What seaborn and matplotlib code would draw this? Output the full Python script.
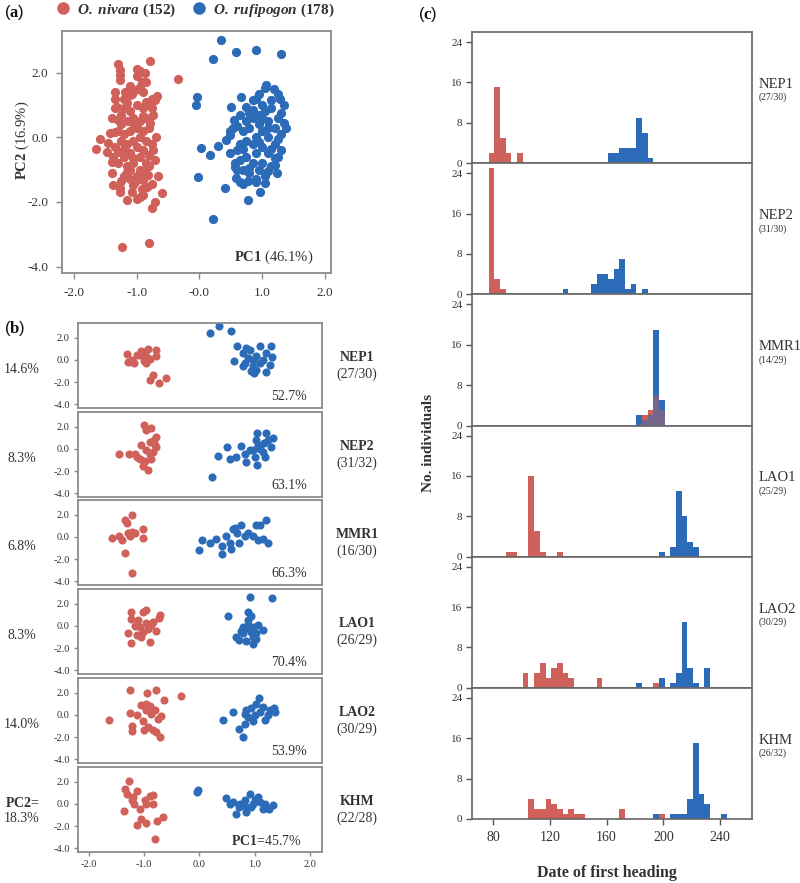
# Import everything ---------------------------------------------------------------------
import numpy as np
import pandas as pd
import matplotlib
matplotlib.use('Agg')
import matplotlib.pyplot as plt
from matplotlib.lines import Line2D
import seaborn as sns
# END ------------------------------------------------------------------------------------


# COLOURS / LABELS -----------------------------------------------------------------------
RED = '#D0605A'
BLUE = '#2B6BB8'

pops = ['NEP1', 'NEP2', 'MMR1', 'LAO1', 'LAO2', 'KHM']
b_counts = ['(27/30)', '(31/32)', '(16/30)', '(26/29)', '(30/29)', '(22/28)']
b_pc2 = ['14.6%', '8.3%', '6.8%', '8.3%', '14.0%', '18.3%']
b_pc1 = ['52.7%', '63.1%', '66.3%', '70.4%', '53.9%', '45.7%']
c_counts = ['(27/30)', '(31/30)', '(14/29)', '(25/29)', '(30/29)', '(26/32)']
# END ------------------------------------------------------------------------------------


# PANEL (a) - PCA of all samples (PC1, PC2) ---------------------------------------------
a_niv = [(-0.79, 2.36), (-1.29, 2.26), (-1.27, 2.08), (-1.27, 1.93), (-1.27, 1.77),
         (-1.0, 2.1), (-0.95, 2.06), (-0.87, 1.98), (-0.99, 1.9), (-0.92, 1.72),
         (-0.34, 1.79), (-1.35, 1.41), (-1.19, 1.41), (-1.08, 1.33), (-1.03, 1.46),
         (-0.95, 1.57), (-0.67, 1.28), (-0.71, 1.15), (-0.76, 1.2), (-1.35, 1.2),
         (-1.32, 0.95), (-1.35, 0.9), (-1.43, 0.12), (-1.59, -0.06), (-1.64, -0.37),
         (-1.45, -0.19), (-1.35, 0.17), (-1.48, -0.44), (-1.37, -0.6), (-1.4, -0.75),
         (-1.37, -1.47), (-1.27, -1.58), (-1.27, -1.68), (-1.16, -1.94), (-1.24, -3.38),
         (-0.8, -3.26), (-0.71, -1.99), (-0.75, -2.2), (-0.6, -1.71), (-0.66, -1.2),
         (-0.71, -0.7), (-0.74, -0.39), (-0.69, 0.0), (-0.74, 0.69), (-0.79, 0.43),
         (-0.99, -1.92), (-0.95, -1.84), (-0.9, -1.78), (-1.05, -1.47), (-1.03, -1.37),
         (-0.9, -1.32), (-0.84, -1.53), (-1.11, -1.01), (-1.16, -1.06), (-0.87, -1.01),
         (-0.82, -1.16), (-1.2, 0.9), (-1.1, 0.8), (-1.0, 1.0), (-0.9, 0.9),
         (-0.85, 1.1), (-1.05, 0.6), (-0.95, 0.5), (-0.85, 0.6), (-1.15, 0.5),
         (-1.25, 0.4), (-1.3, 0.2), (-1.2, 0.1), (-1.1, 0.2), (-1.0, 0.3),
         (-0.9, 0.2), (-0.8, 0.3), (-0.95, 0.0), (-1.05, -0.1), (-1.15, -0.2),
         (-1.25, -0.1), (-0.85, -0.1), (-0.75, -0.2), (-1.0, -0.3), (-0.9, -0.4),
         (-1.1, -0.5), (-1.2, -0.6), (-0.95, -0.6), (-0.85, -0.8), (-1.05, -0.8),
         (-1.15, -0.9), (-1.3, -0.8), (-0.95, -1.0), (-1.0, -1.2), (-1.1, -1.3),
         (-0.8, -0.9), (-1.2, 1.2), (-1.1, 1.3), (-0.9, 1.4), (-1.25, 0.7),
         (-0.75, 0.9), (-1.35, -0.3), (-1.2, -1.2), (-0.92, -1.6), (-1.07, -1.7),
         (-1.15, 1.05), (-0.8, 1.0), (-1.3, 0.55), (-1.05, 0.45), (-0.9, 0.65),
         (-1.2, -0.35), (-1.3, -0.45), (-0.8, -0.55), (-1.05, -0.65), (-0.9, -1.15),
         (-1.25, -1.35), (-1.4, -1.1), (-1.1, 1.6), (-0.85, 1.7), (-1.4, 0.6),
         (-0.75, -1.45)]
a_ruf = [(0.34, 3.01), (0.58, 2.65), (0.91, 2.7), (1.31, 2.57), (0.22, 2.42),
         (-0.03, 1.24), (-0.05, 1.0), (0.03, -0.34), (-0.02, -1.24), (0.17, -0.55),
         (0.3, -0.26), (0.22, -2.54), (0.78, -1.94), (0.96, -1.68), (0.41, -1.58),
         (0.51, 0.95), (0.67, 1.24), (1.07, 1.62), (1.19, 1.48), (1.04, 1.52),
         (1.28, 1.19), (1.35, 1.0), (1.38, 0.3), (1.31, 0.74), (1.26, -0.6),
         (1.24, -1.11), (1.2, -0.86), (1.04, -1.4), (0.91, -1.37), (0.78, -1.35),
         (0.59, -1.27), (0.65, -1.37), (0.57, -0.91), (0.57, -0.8), (0.49, -0.49),
         (0.54, 0.28), (0.49, 0.18), (0.49, 0.07), (0.43, -0.08), (0.86, 0.85),
         (0.75, 0.95), (0.86, 1.15), (0.75, 0.5), (0.85, 0.6), (0.95, 0.7),
         (1.05, 0.8), (1.15, 0.9), (1.25, 0.6), (1.1, 0.5), (0.95, 0.4),
         (0.8, 0.3), (0.7, 0.2), (1.0, 0.2), (1.2, 0.3), (1.3, 0.1),
         (1.1, 0.0), (0.9, 0.0), (0.75, -0.1), (0.65, -0.2), (0.85, -0.2),
         (1.0, -0.3), (1.2, -0.2), (1.3, -0.4), (1.1, -0.5), (0.9, -0.5),
         (0.75, -0.6), (0.65, -0.7), (0.85, -0.8), (1.0, -0.8), (1.15, -0.9),
         (0.95, -1.0), (0.8, -1.1), (1.05, -1.2), (0.9, -1.3), (0.6, -0.4),
         (0.55, 0.55), (0.65, 0.7), (1.0, 1.0), (0.9, 1.2), (1.15, 1.15),
         (1.2, -0.65), (0.7, -1.0), (1.0, 0.6), (0.8, 0.75), (1.1, 0.3),
         (1.25, -0.05), (0.7, -0.35), (0.95, -0.15), (1.15, -0.35), (0.8, -0.95),
         (1.1, -1.05), (0.6, -1.0), (1.35, 0.45), (0.95, 1.35), (0.6, 0.35),
         (0.7, -1.45), (1.25, 1.35)]
# END ------------------------------------------------------------------------------------


# PANEL (b) - PCA per population -------------------------------------------------------
nep1_niv = [(-1.31, 0.55), (-1.29, -0.18), (-1.19, -0.27), (-1.06, 0.85), (-1.08, 0.48),
            (-0.93, 1.0), (-0.78, 0.91), (-0.79, 0.33), (-0.96, 0.33), (-1.01, -0.12),
            (-0.96, -0.27), (-0.84, -1.33), (-0.9, -1.79), (-0.73, -2.09), (-0.6, -1.64),
            (-1.14, 0.48), (-1.23, 0.03), (-1.0, 0.7), (-0.9, 0.1)]
nep1_ruf = [(0.2, 2.45), (0.36, 3.06), (0.58, 2.67), (0.68, 1.3), (1.09, 1.24),
            (1.29, 1.24), (1.31, 0.27), (1.28, -0.42), (1.2, -1.09), (0.98, -1.18),
            (0.94, -1.03), (0.63, -0.06), (0.79, 0.64), (0.91, 0.94), (0.82, -0.27),
            (0.97, -0.58), (1.09, -0.27), (0.79, -0.58), (0.88, 0.18), (1.03, 0.33),
            (1.15, 0.03), (0.97, 0.03), (0.85, 1.09), (1.03, -0.88), (1.21, 0.64)]
nep2_niv = [(-1.46, -0.44), (-1.27, -0.44), (-1.01, 2.15), (-0.87, 1.94), (-0.96, 1.7),
            (-0.78, 1.09), (-0.81, 0.32), (-0.78, 0.17), (-1.05, 0.38), (-1.14, -0.74),
            (-1.08, -0.9), (-0.99, -1.05), (-1.02, -1.5), (-0.94, -1.9), (-0.9, -0.44),
            (-0.87, -0.9), (-0.83, 0.78), (-0.9, 0.63), (-0.96, -0.13), (-0.84, -0.29),
            (-1.17, -0.44)]
nep2_ruf = [(0.22, -2.51), (0.34, -0.68), (0.5, 0.17), (0.56, -0.9), (0.67, -0.74),
            (0.76, 0.23), (0.82, -0.44), (0.85, -1.2), (1.05, -1.41), (1.0, -0.74),
            (1.05, 1.48), (1.2, 1.48), (1.34, 0.99), (1.29, 0.17), (1.17, 0.54),
            (1.06, 0.32), (0.97, -0.13), (1.15, -0.29), (1.18, -0.74), (0.91, -0.13),
            (1.03, 0.78), (1.09, 0.02), (1.24, 0.84)]
mmr1_niv = [(-1.58, -0.06), (-1.46, 0.09), (-1.4, -0.27), (-1.32, 1.3), (-1.34, 1.55),
            (-1.23, 2.0), (-1.29, 0.33), (-1.23, 0.45), (-1.17, 0.39), (-1.02, 0.7),
            (-1.03, -0.06), (-1.34, -1.42), (-1.23, -3.3), (-1.26, 0.09)]
mmr1_ruf = [(-0.01, -1.18), (0.05, -0.27), (0.19, -0.52), (0.3, -0.21), (0.4, -0.82),
            (0.41, -1.52), (0.49, 0.09), (0.58, -1.12), (0.64, 0.85), (0.76, 1.06),
            (0.68, 0.39), (0.82, 0.09), (0.88, 0.39), (0.97, 0.09), (1.03, 1.06),
            (1.1, 1.06), (1.2, 1.55), (1.06, -0.3), (1.24, -0.52), (1.15, -0.15),
            (0.71, -0.52), (0.55, -0.52), (0.61, 0.7)]
lao1_niv = [(-1.24, 1.3), (-1.24, 0.61), (-1.29, -0.67), (-1.24, -1.58), (-1.14, -0.82),
            (-1.02, 1.3), (-0.96, 1.45), (-0.78, -0.45), (-0.72, 1.0), (-0.73, 0.7),
            (-0.9, -1.42), (-1.08, -0.06), (-0.96, 0.24), (-1.17, 0.0), (-0.87, 0.09),
            (-1.02, -0.52), (-0.93, -0.3), (-1.11, 0.55), (-0.84, 0.39), (-1.05, -0.97)]
lao1_ruf = [(0.52, 0.94), (0.88, 1.3), (0.94, 0.91), (0.91, 2.67), (1.31, 2.52),
            (0.88, 0.55), (1.06, 0.09), (1.15, -0.36), (0.97, -0.97), (1.02, -1.21),
            (0.97, -1.67), (0.85, -1.33), (0.71, -1.27), (0.75, -0.42), (0.78, -0.67),
            (0.85, -0.21), (0.94, -0.52), (0.79, -0.06), (0.97, -0.06), (0.67, -0.97),
            (1.03, -0.67), (0.88, 0.09)]
lao2_niv = [(-1.26, 2.24), (-0.95, 2.03), (-0.78, 2.3), (-0.34, 1.7), (-0.65, 1.33),
            (-1.64, -0.41), (-1.26, 0.2), (-1.23, -0.96), (-1.23, -1.48), (-1.14, -0.04),
            (-1.05, 0.87), (-0.96, 1.02), (-0.9, 0.78), (-1.02, -0.5), (-1.0, -1.32),
            (-0.93, -1.11), (-0.85, -1.35), (-0.78, -1.57), (-0.71, -2.02), (-0.69, -0.13),
            (-0.75, -0.35), (-0.87, 0.11), (-0.96, 0.41), (-0.81, 0.41)]
lao2_ruf = [(0.42, -0.41), (0.61, 0.26), (0.72, -1.26), (0.78, -1.96), (0.82, -0.8),
            (1.08, 1.57), (1.35, 0.66), (1.36, 0.26), (1.24, -0.04), (1.18, -0.44),
            (0.85, 0.41), (0.94, 0.66), (1.0, -0.04), (1.09, 0.26), (1.15, 0.72),
            (0.88, -0.2), (0.97, -0.5), (1.03, 1.02), (0.82, 0.11), (1.27, 0.41)]
khm_niv = [(-1.27, 2.06), (-1.35, 1.39), (-1.32, 0.94), (-1.14, 1.15), (-1.36, -0.67),
           (-1.23, 0.33), (-1.18, -0.03), (-1.14, -1.94), (-1.05, -1.33), (-0.97, -1.73),
           (-1.08, -0.42), (-0.99, 0.33), (-0.9, 0.7), (-0.84, 0.79), (-0.85, -0.03),
           (-0.76, -1.55), (-0.66, -1.18), (-0.81, -3.21), (-0.96, 0.03), (-1.2, 0.64)]
khm_ruf = [(-0.04, 1.09), (-0.02, 1.24), (0.49, 0.58), (0.66, -0.88), (0.91, 0.94),
           (1.06, 0.64), (1.34, -0.12), (1.26, -0.42), (1.15, -0.42), (0.85, -0.73),
           (0.61, 0.18), (0.73, 0.03), (0.82, 0.33), (0.97, -0.03), (1.09, 0.18),
           (0.71, -0.27), (0.94, -0.27), (0.82, -0.21), (1.0, 0.39), (0.55, 0.03),
           (1.18, -0.03)]
b_niv = [nep1_niv, nep2_niv, mmr1_niv, lao1_niv, lao2_niv, khm_niv]
b_ruf = [nep1_ruf, nep2_ruf, mmr1_ruf, lao1_ruf, lao2_ruf, khm_ruf]
# END ------------------------------------------------------------------------------------


# PANEL (c) - date of first heading, (bin start day, no. individuals) --------------------
h_nep1_niv = [(77, 2), (81, 15), (85, 5), (89, 2), (97, 2)]
h_nep1_ruf = [(161, 2), (165, 2), (169, 3), (173, 3), (177, 3), (181, 9), (185, 6), (189, 1)]
h_nep2_niv = [(77, 25), (81, 3), (85, 1)]
h_nep2_ruf = [(129, 1), (149, 2), (153, 4), (157, 4), (161, 3), (165, 5), (169, 7),
              (173, 1), (177, 2), (185, 1)]
h_mmr1_niv = [(185, 2), (189, 3), (193, 6), (197, 3)]
h_mmr1_ruf = [(181, 2), (185, 1), (189, 2), (193, 19), (197, 5)]
h_lao1_niv = [(89, 1), (93, 1), (105, 16), (109, 5), (113, 1), (125, 1)]
h_lao1_ruf = [(197, 1), (205, 2), (209, 13), (213, 8), (217, 3), (221, 2)]
h_lao2_niv = [(101, 3), (109, 3), (113, 5), (117, 2), (121, 4), (125, 5), (129, 3),
              (133, 2), (153, 2), (193, 1)]
h_lao2_ruf = [(181, 1), (197, 2), (205, 1), (209, 3), (213, 13), (217, 4), (221, 1), (229, 4)]
h_khm_niv = [(105, 4), (109, 2), (113, 2), (117, 4), (121, 3), (125, 2), (129, 1),
             (133, 2), (137, 1), (141, 1), (169, 2), (197, 1)]
h_khm_ruf = [(193, 1), (205, 1), (209, 1), (213, 1), (217, 4), (221, 15), (225, 5),
             (229, 3), (241, 1)]
h_niv = [h_nep1_niv, h_nep2_niv, h_mmr1_niv, h_lao1_niv, h_lao2_niv, h_khm_niv]
h_ruf = [h_nep1_ruf, h_nep2_ruf, h_mmr1_ruf, h_lao1_ruf, h_lao2_ruf, h_khm_ruf]
BIN_W = 4
# END ------------------------------------------------------------------------------------


# STYLE ----------------------------------------------------------------------------------
sns.set_style('white')
plt.rcParams['font.family'] = ['Liberation Serif', 'DejaVu Serif']
plt.rcParams['mathtext.fontset'] = 'custom'
plt.rcParams['mathtext.rm'] = 'Liberation Serif'
plt.rcParams['mathtext.it'] = 'Liberation Serif:italic'
plt.rcParams['mathtext.bf'] = 'Liberation Serif:bold'
plt.rcParams['mathtext.bfit'] = 'Liberation Serif:italic:bold'
SPINE = '#8a8a8a'
TXT = '#333333'

W, H = 800, 883
fig = plt.figure(figsize=(8, 8.83), dpi=100)


def px_rect(left, top, right, bottom):
    # pixel box -> figure fraction rect
    return [left / W, 1 - bottom / H, (right - left) / W, (bottom - top) / H]


def draw_pca(ax, niv, ruf, size):
    for pts, col in ((niv, RED), (ruf, BLUE)):
        xy = np.array(pts)
        sns.scatterplot(x=xy[:, 0], y=xy[:, 1], color=col, s=size, linewidth=0,
                        ax=ax, legend=False)
    for sp in ax.spines.values():
        sp.set_color(SPINE)
        sp.set_linewidth(1.3)
    ax.set_xlabel('')
    ax.set_ylabel('')


def hist_frame(pairs):
    arr = np.array(pairs, float)
    return pd.DataFrame({'day': arr[:, 0] + BIN_W / 2, 'n': arr[:, 1]})
# END ------------------------------------------------------------------------------------


# PANEL (a) ------------------------------------------------------------------------------
ax_a = fig.add_axes(px_rect(62, 31, 331, 273))
draw_pca(ax_a, a_niv, a_ruf, 44)
ax_a.set_xlim(-2.19, 2.1)
ax_a.set_ylim(-4.2, 3.29)
ax_a.set_xticks([-2, -1, 0, 1, 2])
ax_a.set_xticklabels(['-2.0', '-1.0', '-0.0', '1.0', '2.0'])
ax_a.set_yticks([-4, -2, 0, 2])
ax_a.set_yticklabels(['-4.0', '-2.0', '0.0', '2.0'])
ax_a.tick_params(direction='out', length=4, width=1, color=SPINE, labelcolor=TXT,
                 labelsize=9.5, pad=6, left=True, bottom=True)
ax_a.text(0.935, 0.03, r'$\mathbf{PC1}$ (46.1%)', transform=ax_a.transAxes,
          ha='right', va='bottom', fontsize=10.5, color=TXT)
fig.text(22 / W, 1 - 140 / H, r'$\mathbf{PC2}$ (16.9%)', rotation=90,
         ha='center', va='center', fontsize=10.5, color=TXT)

handles = [Line2D([], [], marker='o', ls='', color=RED, markersize=8),
           Line2D([], [], marker='o', ls='', color=BLUE, markersize=8)]
labels = [r'$\mathbfit{O.\ nivara}\ \mathbf{(152)}$',
          r'$\mathbfit{O.\ rufipogon}\ \mathbf{(178)}$']
fig.legend(handles, labels, loc='center left', bbox_to_anchor=(42 / W, 1 - 10 / H),
           ncol=2, frameon=False, fontsize=11, handlelength=1.0, handletextpad=0.4,
           columnspacing=1.0, labelcolor=TXT)
# END ------------------------------------------------------------------------------------


# PANEL (b) ------------------------------------------------------------------------------
b_tops = [323, 412, 500, 589, 678, 767]
for i, pop in enumerate(pops):
    ax = fig.add_axes(px_rect(78, b_tops[i], 322, b_tops[i] + 85))
    draw_pca(ax, b_niv[i], b_ruf[i], 34)
    ax.set_xlim(-2.2, 2.22)
    ax.set_ylim(-4.36, 3.36)
    ax.set_yticks([-4, -2, 0, 2])
    ax.set_yticklabels(['-4.0', '-2.0', '0.0', '2.0'])
    ax.tick_params(direction='out', length=3, width=1, color=SPINE, labelcolor=TXT,
                   labelsize=7.5, pad=3, left=True)
    if i == len(pops) - 1:
        ax.set_xticks([-2, -1, 0, 1, 2])
        ax.set_xticklabels(['-2.0', '-1.0', '0.0', '1.0', '2.0'])
        ax.tick_params(axis='x', bottom=True, labelsize=7.5, pad=3)
        ax.text(-0.23, 0.58, r'$\mathbf{PC2}$=', transform=ax.transAxes,
                ha='center', va='center', fontsize=10, color=TXT)
        ax.text(-0.23, 0.40, b_pc2[i], transform=ax.transAxes,
                ha='center', va='center', fontsize=10, color=TXT)
        ax.text(0.915, 0.13, r'$\mathbf{PC1}$=' + b_pc1[i], transform=ax.transAxes,
                ha='right', va='center', fontsize=10, color=TXT)
    else:
        ax.set_xticks([])
        ax.text(-0.23, 0.45, b_pc2[i], transform=ax.transAxes,
                ha='center', va='center', fontsize=10, color=TXT)
        ax.text(0.94, 0.13, b_pc1[i], transform=ax.transAxes,
                ha='right', va='center', fontsize=10, color=TXT)
    ax.text(1.143, 0.59, pop, transform=ax.transAxes, ha='center', va='center',
            fontsize=10, fontweight='bold', color=TXT)
    ax.text(1.143, 0.40, b_counts[i], transform=ax.transAxes, ha='center', va='center',
            fontsize=10, color=TXT)
# END ------------------------------------------------------------------------------------


# PANEL (c) ------------------------------------------------------------------------------
edges = list(range(65, 265, BIN_W))
c_h = (819 - 32) / 6
for i, pop in enumerate(pops):
    top = 32 + i * c_h
    ax = fig.add_axes(px_rect(472, top, 752, top + c_h))
    niv = hist_frame(h_niv[i])
    ruf = hist_frame(h_ruf[i])
    # red under, blue, then translucent red so that overlaps read purple
    sns.histplot(data=niv, x='day', weights='n', bins=edges, color=RED,
                 alpha=1, linewidth=0, ax=ax)
    sns.histplot(data=ruf, x='day', weights='n', bins=edges, color=BLUE,
                 alpha=1, linewidth=0, ax=ax)
    sns.histplot(data=niv, x='day', weights='n', bins=edges, color=RED,
                 alpha=0.45, linewidth=0, ax=ax)
    ax.set_xlim(65.2, 262.5)
    ax.set_ylim(0, 26)
    ax.set_yticks([0, 8, 16, 24])
    ax.set_ylabel('')
    ax.set_xlabel('')
    for sp in ax.spines.values():
        sp.set_color('#666666')
        sp.set_linewidth(1.2)
    ax.tick_params(axis='y', direction='out', length=4, width=1, color='#555555',
                   labelcolor=TXT, labelsize=8, pad=3, left=True)
    if i == len(pops) - 1:
        ax.set_xticks([80, 120, 160, 200, 240])
        ax.tick_params(axis='x', direction='out', length=4, width=1, color='#555555',
                       labelcolor=TXT, labelsize=10, pad=5, bottom=True)
    else:
        ax.set_xticks([])
    ax.text(1.022, 0.60, pop, transform=ax.transAxes, ha='left', va='center',
            fontsize=10.5, color=TXT)
    ax.text(1.022, 0.50, c_counts[i], transform=ax.transAxes, ha='left', va='center',
            fontsize=7, color=TXT)

fig.text(428 / W, 1 - 443 / H, 'No. individuals', rotation=90, ha='center', va='center',
         fontsize=11, fontweight='bold', color=TXT)
fig.text(607 / W, 1 - 873 / H, 'Date of first heading', ha='center', va='center',
         fontsize=11.5, fontweight='bold', color=TXT)
# END ------------------------------------------------------------------------------------


# PANEL LETTERS ------------------------------------------------------------------------
for lab, x, y in (('a', 4, 13), ('b', 4, 328), ('c', 418, 14)):
    fig.text(x / W, 1 - y / H, '(' + r'$\mathbf{' + lab + '}$' + ')', ha='left',
             va='center', fontsize=12, family=['Liberation Sans', 'DejaVu Sans'],
             color='#111111')

fig.savefig('out.png', dpi=100)
